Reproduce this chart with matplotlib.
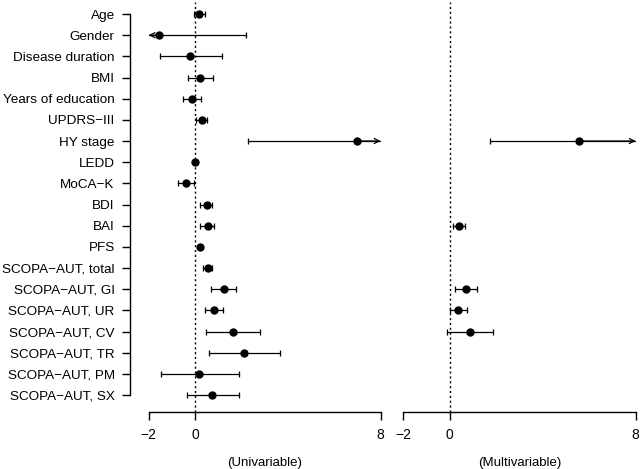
import numpy as np
import matplotlib
matplotlib.use("Agg")
import matplotlib.pyplot as plt

plt.rcParams['font.family'] = ['Liberation Sans', 'DejaVu Sans']

# variables, top to bottom
labels = ["Age", "Gender", "Disease duration", "BMI", "Years of education",
          "UPDRS\u2212III", "HY stage", "LEDD", "MoCA\u2212K", "BDI", "BAI", "PFS",
          "SCOPA\u2212AUT, total", "SCOPA\u2212AUT, GI", "SCOPA\u2212AUT, UR",
          "SCOPA\u2212AUT, CV", "SCOPA\u2212AUT, TR", "SCOPA\u2212AUT, PM",
          "SCOPA\u2212AUT, SX"]

# univariable estimates and 95% CI
uni_est = [0.19, -1.54, -0.20, 0.22, -0.14, 0.30, 6.97, 0.00, -0.40, 0.50, 0.55,
           0.23, 0.56, 1.25, 0.80, 1.64, 2.13, 0.19, 0.73]
uni_lo = [-0.03, -2.60, -1.51, -0.32, -0.53, 0.04, 2.30, -0.02, -0.72, 0.23, 0.23,
          0.18, 0.34, 0.70, 0.42, 0.49, 0.62, -1.47, -0.33]
uni_hi = [0.43, 2.21, 1.16, 0.76, 0.26, 0.53, 11.5, 0.02, -0.03, 0.73, 0.83,
          0.28, 0.73, 1.75, 1.19, 2.79, 3.65, 1.88, 1.88]

# multivariable estimates (only retained variables)
multi_est = [None, None, None, None, None, None, 5.56, None, None, None, 0.39,
             None, None, 0.70, 0.37, 0.86, None, None, None]
multi_lo = [None, None, None, None, None, None, 1.72, None, None, None, 0.14,
            None, None, 0.24, 0.01, -0.10, None, None, None]
multi_hi = [None, None, None, None, None, None, 10.5, None, None, None, 0.66,
            None, None, 1.18, 0.75, 1.84, None, None, None]

xticks = [-2, 0, 8]
xmin, xmax = -2, 8

fig = plt.figure(figsize=(6.41, 4.69), dpi=100)
bottom = 1 - 412 / 469
top = 1 - 2 / 469
ax1 = fig.add_axes([148.6 / 641, bottom, 232 / 641, top - bottom])
ax2 = fig.add_axes([403.3 / 641, bottom, 232.4 / 641, top - bottom])

n = len(labels)
ypos = np.arange(n)


def draw(ax, est, lo, hi):
    for y, e, l, h in zip(ypos, est, lo, hi):
        if e is None:
            continue
        l2 = max(l, xmin)
        h2 = min(h, xmax)
        ax.plot([l2, h2], [y, y], color='black', lw=0.9, zorder=2)
        if l >= xmin:
            ax.plot([l], [y], marker='|', color='black', ms=4, mew=0.9, zorder=2)
        else:
            ax.annotate('', xy=(xmin, y), xytext=(e, y),
                        arrowprops=dict(arrowstyle='->', lw=0.9, color='black',
                                        shrinkA=0, shrinkB=0, mutation_scale=9))
        if h <= xmax:
            ax.plot([h], [y], marker='|', color='black', ms=4, mew=0.9, zorder=2)
        else:
            ax.annotate('', xy=(xmax, y), xytext=(e, y),
                        arrowprops=dict(arrowstyle='->', lw=0.9, color='black',
                                        shrinkA=0, shrinkB=0, mutation_scale=9))
        ax.plot([e], [y], marker='o', color='black', ms=5, zorder=3)
    ax.axvline(0, color='black', lw=1, linestyle=(0, (1.5, 2)), zorder=1)
    ax.set_xlim(xmin, xmax)
    ax.set_ylim((412 - 14) / 21.17, -12 / 21.17)
    ax.set_xticks(xticks)
    ax.spines['top'].set_visible(False)
    ax.spines['right'].set_visible(False)
    ax.spines['bottom'].set_bounds(xmin, xmax)
    ax.spines['bottom'].set_linewidth(1)
    ax.tick_params(axis='x', length=5.5, width=1, labelsize=10, pad=6)
    ax.set_facecolor('none')


draw(ax1, uni_est, uni_lo, uni_hi)
draw(ax2, multi_est, multi_lo, multi_hi)

ax1.set_yticks(ypos)
ax1.set_yticklabels(labels)
ax1.spines['left'].set_position(('outward', 13.4))
ax1.spines['left'].set_bounds(0, n - 1)
ax1.spines['left'].set_linewidth(1)
ax1.tick_params(axis='y', length=5.5, width=1, labelsize=9.7, pad=5.5)

ax2.spines['left'].set_visible(False)
ax2.set_yticks([])

ax1.set_xlabel("(Univariable)", fontsize=9.5, labelpad=11)
ax2.set_xlabel("(Multivariable)", fontsize=9.5, labelpad=11)

fig.savefig("out.png", dpi=100)
